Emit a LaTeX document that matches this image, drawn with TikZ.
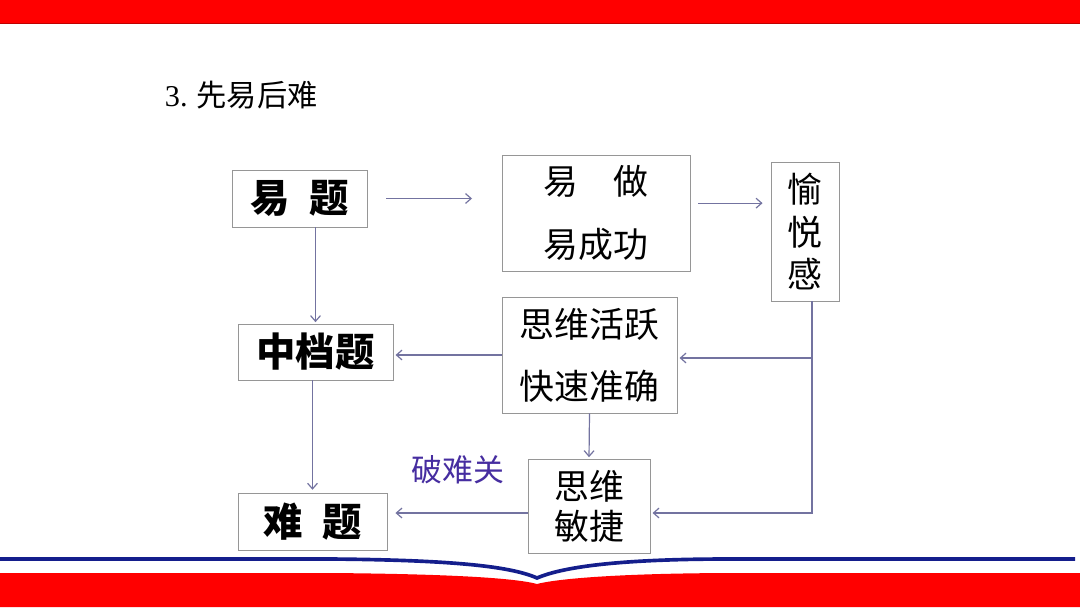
\documentclass[tikz,border=0pt]{standalone}
\usepackage{fontspec}
\setmainfont{Liberation Serif}
\newfontfamily\cjk{Noto Sans CJK SC}
\usetikzlibrary{arrows.meta, calc, positioning}
\definecolor{barred}{RGB}{255,0,0}
\definecolor{bandblue}{RGB}{20,30,140}
\definecolor{boxgray}{RGB}{150,150,150}
\definecolor{linkgray}{RGB}{115,115,160}
\definecolor{tagpurple}{RGB}{70,45,160}

\begin{document}
\begin{tikzpicture}[x=0.025cm, y=-0.025cm, >={Straight Barb[length=4pt, width=7pt]},
  box/.style={draw=boxgray, line width=0.6pt, fill=white, inner sep=0pt, align=center},
  hardbox/.style={box, font=\cjk\bfseries\fontsize{28}{30}\selectfont},
  softbox/.style={box, font=\cjk\fontsize{24.8}{#1}\selectfont},
  link/.style={->, draw=linkgray, line width=0.85pt}]
  \useasboundingbox (0,0) rectangle (1080,607);
  \fill[barred] (0,0) rectangle (1080,23);
  \draw[barred!75!black, line width=0.6pt] (0,23) -- (1080,23);
  \fill[barred] (0,573) -- (330,573) .. controls (450,574) and (515,578) .. (537,584) .. controls (560,578) and (630,573) .. (740,573) -- (1080,573) -- (1080,607) -- (0,607) -- cycle;
  \draw[bandblue, line width=2.6pt] (0,559) -- (330,559) .. controls (450,560) and (510,566) .. (537,578) .. controls (565,566) and (625,559) .. (730,559) -- (1075,559);
  \node[anchor=west, font=\fontsize{21.5}{24}\selectfont] (title) at (160,95) {3.\hspace{0.3em}{\cjk 先易后难}};
  \node[hardbox, minimum width=3.375cm, minimum height=1.425cm] (yiti) at (299.5,198.5) {易\hspace{0.5em}题};
  \node[softbox=44.6, minimum width=4.7cm, minimum height=2.9cm] (yizuo) at (596,213) {易\hspace{1em}做\\易成功};
  \node[softbox=30.5, minimum width=1.7cm, minimum height=3.475cm] (yuyue) at (805,231.5) {愉\\悦\\感};
  \node[hardbox, minimum width=3.875cm, minimum height=1.4cm] (zhongdang) at (315.5,352) {中档题};
  \node[softbox=44, minimum width=4.375cm, minimum height=2.9cm] (siweihy) at (589.5,355) {思维活跃\\快速准确};
  \node[softbox=28.3, minimum width=3.05cm, minimum height=2.35cm] (siweimj) at (589,506) {思维\\敏捷};
  \node[hardbox, minimum width=3.725cm, minimum height=1.425cm] (nanti) at (312.5,521.5) {难\hspace{0.5em}题};
  \node[text=tagpurple, font=\cjk\fontsize{22}{24}\selectfont] (ponanguan) at (458,470) {破难关};
  \coordinate (turn) at (812,513);
  \coordinate (fork) at (812,358);
  \draw[link, shorten <=13.5pt, shorten >=21pt] (yiti.east) -- (yiti.east -| yizuo.west);
  \draw[link, shorten <=5.7pt, shorten >=5.7pt] ([yshift=7pt]yizuo.east) -- ([yshift=7pt]yizuo.east -| yuyue.west);
  \draw[link, shorten >=1pt] (zhongdang.north |- yiti.south) -- (zhongdang.north);
  \draw[link, shorten >=2pt] (nanti.north |- zhongdang.south) -- (nanti.north);
  \draw[link, shorten >=1.5pt] (siweihy.west) -- (siweihy.west -| zhongdang.east);
  \draw[link, shorten >=1pt] (siweihy.south) -- (siweimj.north);
  \draw[link, shorten >=1.5pt] (yuyue.south -| turn) -- (turn) -- (turn -| siweimj.east);
  \draw[link, shorten >=1.5pt] (fork) -- (fork -| siweihy.east);
  \draw[link, shorten >=5.7pt] (siweimj.west |- turn) -- (nanti.east |- turn);
\end{tikzpicture}
\end{document}
